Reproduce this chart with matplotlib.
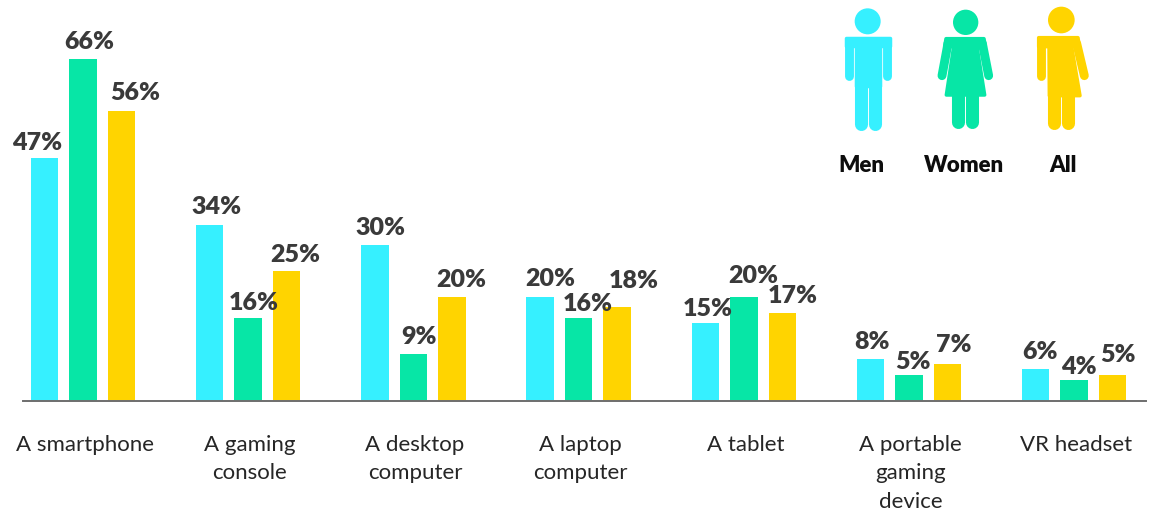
import numpy as np
import matplotlib
matplotlib.use('Agg')
import matplotlib.pyplot as plt
from matplotlib.patches import Circle, Polygon
from matplotlib.transforms import ScaledTranslation

plt.rcParams['font.family'] = ['Lato', 'DejaVu Sans']

categories = ['A smartphone', 'A gaming\nconsole', 'A desktop\ncomputer', 'A laptop\ncomputer',
              'A tablet', 'A portable\ngaming\ndevice', 'VR headset']
men = [47, 34, 30, 20, 15, 8, 6]
women = [66, 16, 9, 16, 20, 5, 4]
everyone = [56, 25, 20, 18, 17, 7, 5]

CYAN = '#36F0FF'
GREEN = '#07E6A6'
YELLOW = '#FFD400'

# label nudges in pixels, relative to the centre of each bar top
men_nudge = [(-7, 16), (7, 19), (6, 18), (10, 19), (2, 15), (2, 18), (4, 18)]
women_nudge = [(6, 18), (6, 16), (6, 18), (9, 15), (9, 22), (4, 14), (5, 14)]
all_nudge = [(14, 19), (9, 17), (9, 18), (17, 27), (10, 18), (6, 20), (5, 21)]

W, H = 1150, 511
fig = plt.figure(figsize=(W / 100, H / 100), dpi=100)
ax = fig.add_axes([23 / W, (H - 400.5) / H, (1146 - 23) / W, 400.5 / H])

x = np.arange(len(categories))
step = 38.5 / 165.2
width = 27.5 / 165.2

series = [(men, -step, CYAN, men_nudge), (women, 0, GREEN, women_nudge), (everyone, step, YELLOW, all_nudge)]
for values, off, color, nudge in series:
    ax.bar(x + off, values, width, color=color, zorder=2)
    for xi, v, (dx, dy) in zip(x, values, nudge):
        ax.annotate(f'{v}%', (xi + off, v), xytext=(dx, dy - 1), textcoords='offset pixels',
                    ha='center', va='center', fontsize=18, fontweight='heavy', color='#3A3A3A')

ax.set_xlim((23 - 83) / 165.2, (1146 - 83) / 165.2)
ax.set_ylim(0, 400.5 / 5.17)
for s in ['top', 'right', 'left']:
    ax.spines[s].set_visible(False)
ax.spines['bottom'].set_color('#6E6E6E')
ax.spines['bottom'].set_linewidth(1.4)
ax.spines['bottom'].set_zorder(3)
ax.set_yticks([])
ax.set_xticks(x)
ax.set_xticklabels(categories, fontsize=16, color='#262626', linespacing=1.55, va='top')
ax.tick_params(axis='x', length=0, pad=24.5)
for lab in ax.get_xticklabels():
    lab.set_transform(lab.get_transform() + ScaledTranslation(1.5 / 100, 0, fig.dpi_scale_trans))

# people icons, drawn in a small overlay with its own pixel grid
icons = fig.add_axes([820 / W, (H - 190) / H, 290 / W, 190 / H])
icons.set_xlim(0, 870)
icons.set_ylim(570, 0)
icons.axis('off')

ARM_W = 6.4
LEG_W = 9.4


def shape(points, color):
    icons.add_patch(Polygon(points, closed=True, facecolor=color, edgecolor=color,
                            linewidth=2.5, joinstyle='round'))


def limb(x0, y0, x1, y1, w, color):
    icons.plot([x0, x1], [y0, y1], color=color, lw=w, solid_capstyle='round')


# men
icons.add_patch(Circle((143, 64), 39, color=CYAN, lw=0))
shape([(78, 113), (209, 113), (209, 138), (179, 138), (179, 258), (109, 258), (109, 138), (78, 138)], CYAN)
limb(86, 130, 86, 227, ARM_W, CYAN)
limb(201, 130, 201, 227, ARM_W, CYAN)
limb(124, 240, 124, 371, LEG_W, CYAN)
limb(165, 240, 165, 371, LEG_W, CYAN)

# women
icons.add_patch(Circle((437, 67), 38, color=GREEN, lw=0))
shape([(378, 116), (492, 116), (496, 140), (471, 140), (494, 285), (379, 285), (401, 140), (374, 140)], GREEN)
limb(384, 130, 366, 227, ARM_W, GREEN)
limb(487, 130, 506, 227, ARM_W, GREEN)
limb(415, 285, 415, 366, LEG_W, GREEN)
limb(456, 285, 456, 366, LEG_W, GREEN)

# all
icons.add_patch(Circle((724, 60), 40, color=YELLOW, lw=0))
shape([(656, 113), (774, 113), (778, 140), (755, 140), (780, 287), (688, 287), (687, 140), (656, 140)], YELLOW)
limb(664, 130, 664, 227, ARM_W, YELLOW)
limb(770, 130, 793, 227, ARM_W, YELLOW)
limb(702, 285, 702, 369, LEG_W, YELLOW)
limb(743, 285, 743, 369, LEG_W, YELLOW)

for label, lx in [('Men', 125), ('Women', 433), ('All', 728)]:
    icons.text(lx, 497, label, ha='center', va='center', fontsize=16, fontweight='heavy', color='#0D0D0D')

fig.savefig('out.png', dpi=100)
